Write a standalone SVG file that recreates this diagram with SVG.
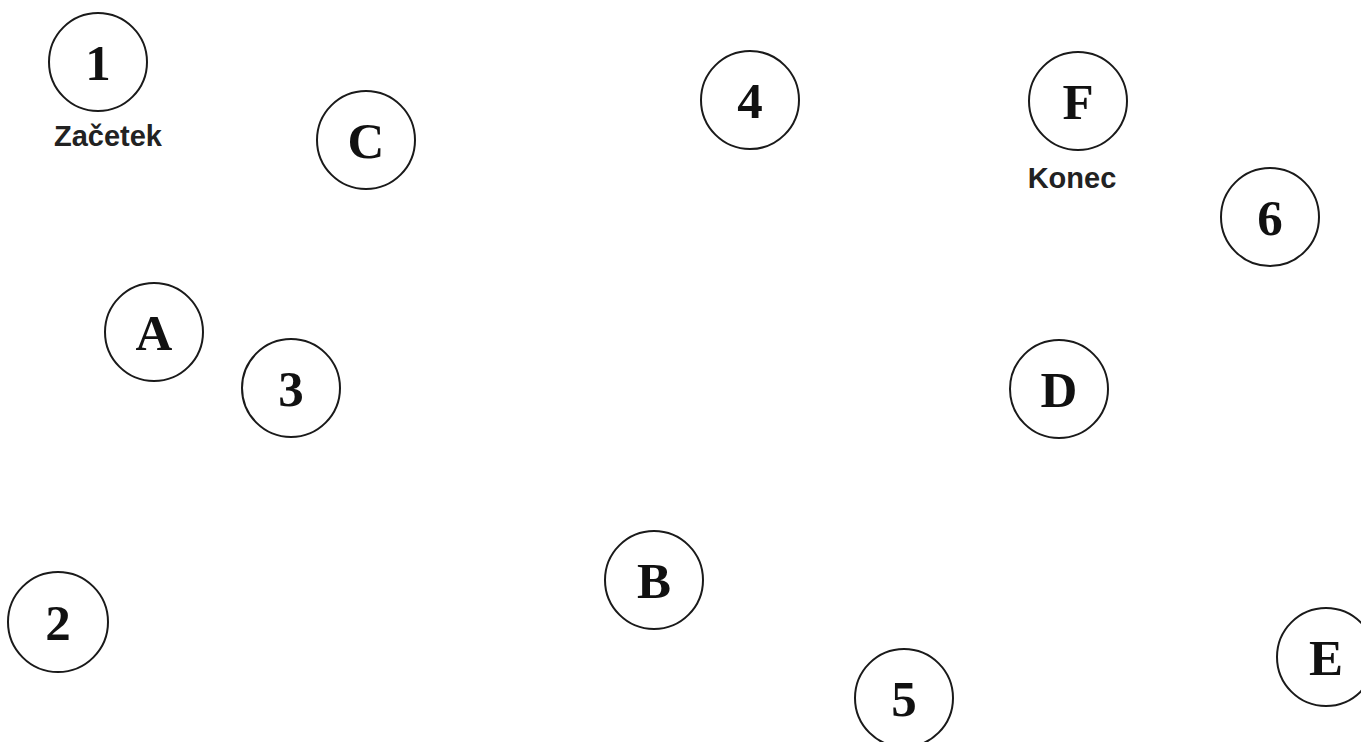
<svg xmlns="http://www.w3.org/2000/svg" width="1361" height="742" viewBox="0 0 1361 742">
<style>
.n circle{fill:#fff;stroke:#1a1a1a;stroke-width:2}
.n text{font-family:"Liberation Serif","Times New Roman",serif;font-weight:bold;font-size:51px;text-anchor:middle;fill:#111}
.lbl{font-family:"Liberation Sans",Arial,sans-serif;font-weight:bold;font-size:29px;text-anchor:middle;fill:#222}
</style>
<rect width="1361" height="742" fill="#fff"/>
<g id="connectors"></g>
<g id="n1" class="n"><circle cx="98" cy="62" r="49"/><text x="98" y="80">1</text></g>
<g id="nC" class="n"><circle cx="366" cy="140" r="49"/><text x="366" y="158">C</text></g>
<g id="n4" class="n"><circle cx="750" cy="100" r="49"/><text x="750" y="118">4</text></g>
<g id="nF" class="n"><circle cx="1078" cy="101" r="49"/><text x="1078" y="119">F</text></g>
<g id="n6" class="n"><circle cx="1270" cy="217" r="49"/><text x="1270" y="235">6</text></g>
<g id="nA" class="n"><circle cx="154" cy="332" r="49"/><text x="154" y="350">A</text></g>
<g id="n3" class="n"><circle cx="291" cy="388" r="49"/><text x="291" y="406">3</text></g>
<g id="nD" class="n"><circle cx="1059" cy="389" r="49"/><text x="1059" y="407">D</text></g>
<g id="nB" class="n"><circle cx="654" cy="580" r="49"/><text x="654" y="598">B</text></g>
<g id="n2" class="n"><circle cx="58" cy="622" r="50"/><text x="58" y="640">2</text></g>
<g id="n5" class="n"><circle cx="904" cy="698" r="49"/><text x="904" y="716">5</text></g>
<g id="nE" class="n"><circle cx="1326" cy="657" r="49"/><text x="1326" y="675">E</text></g>
<text class="lbl" x="108" y="146">Začetek</text>
<text class="lbl" x="1072" y="188">Konec</text>
</svg>
